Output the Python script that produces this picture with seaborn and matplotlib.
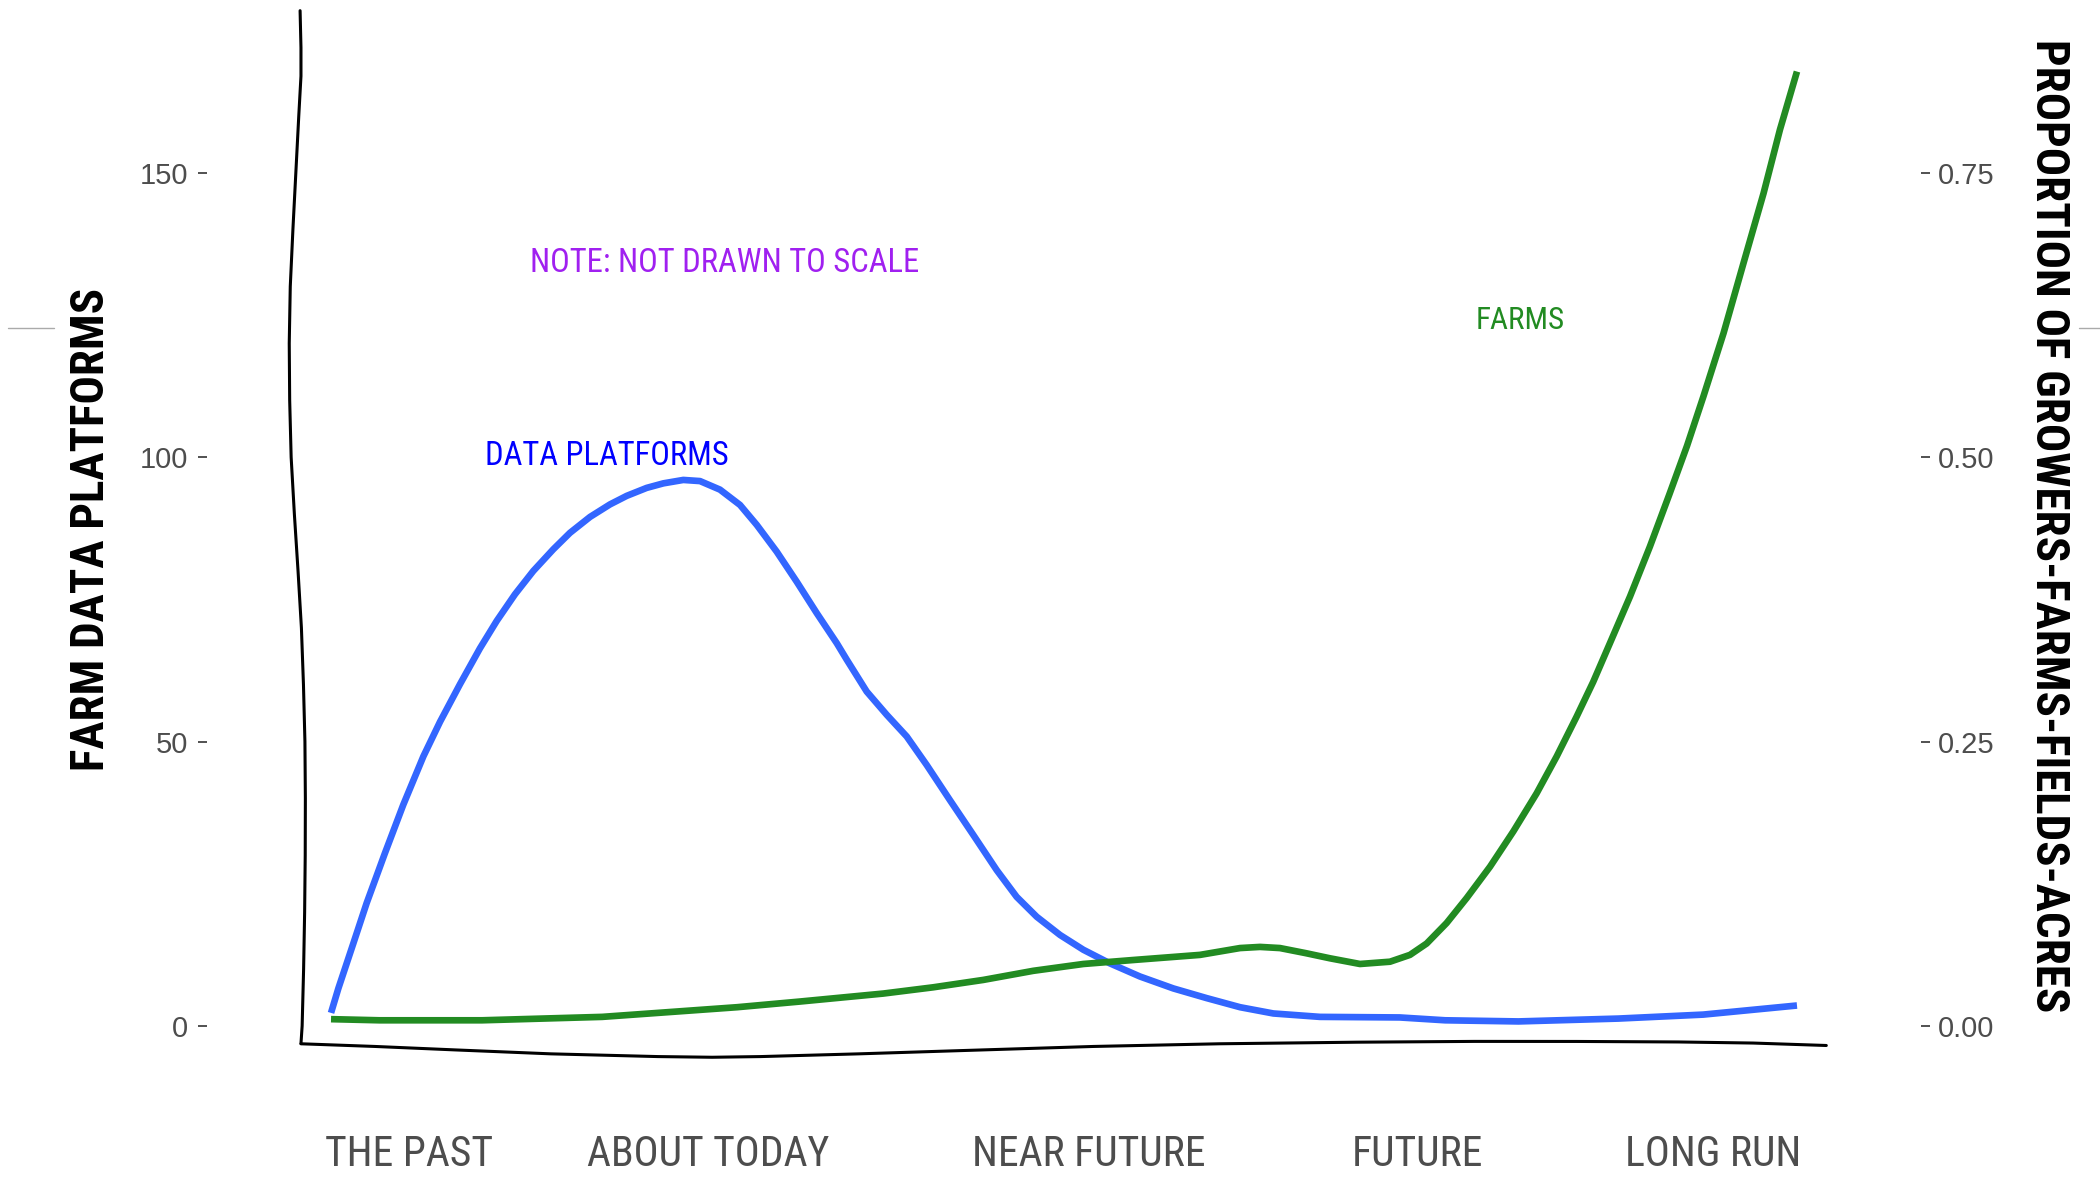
import matplotlib
matplotlib.use("Agg")
import matplotlib.pyplot as plt
import seaborn as sns
import pandas as pd
from matplotlib import font_manager
from matplotlib.lines import Line2D

# ---------------- data ----------------
platform_x = [0, 0.5, 1.52, 2.43, 3.68, 4.93, 6.30, 7.44, 8.80, 10.16, 11.30, 12.55, 13.80,
              15.16, 16.30, 17.67, 19.03, 20.17, 21.53, 22.67, 24.03, 25.17, 26.53, 27.90,
              29.04, 30.40, 31.77, 33.13, 34.50, 35.18, 36.54, 37.91, 39.27, 40.63, 42.22,
              43.81, 45.41, 46.77, 48.14, 49.73, 51.32, 53.14, 55.18, 57.46, 59.73, 62.01,
              64.28, 67.46, 72.9, 76.0, 81.0, 87.8, 93.6, 100]
platform_y = [2.3, 6.6, 14.5, 21.6, 30.4, 38.9, 47.4, 53.5, 60.1, 66.4, 71.2, 75.9, 80.0,
              83.8, 86.7, 89.5, 91.7, 93.2, 94.6, 95.4, 96.0, 95.8, 94.3, 91.6, 88.1, 83.4,
              78.1, 72.6, 67.3, 64.4, 58.8, 54.7, 50.9, 45.9, 39.7, 33.6, 27.4, 22.7, 19.2,
              16.0, 13.4, 11.0, 8.7, 6.6, 4.9, 3.3, 2.2, 1.6, 1.5, 1.0, 0.8, 1.3, 2.0, 3.6]

farms_x = [0, 3.3, 10.3, 18.5, 27.7, 32.0, 37.67, 41.08, 44.50, 47.91, 51.32, 54.73, 59.28,
           62.01, 63.37, 64.73, 66.5, 68.14, 70.19, 72.24, 73.60, 74.74, 76.10, 77.47, 79.06,
           80.65, 82.24, 83.61, 84.97, 86.10, 87.24, 88.61, 89.97, 91.3, 92.5, 93.62,
           94.99, 96.35, 97.72, 98.84, 100]
farms_prop = [0.0060, 0.0050, 0.0050, 0.0080, 0.0165, 0.0215, 0.0285, 0.0340, 0.0405,
              0.0485, 0.0545, 0.0580, 0.0625, 0.0685, 0.0695, 0.0685, 0.0640, 0.0595,
              0.0545, 0.0565, 0.0625, 0.0725, 0.0905, 0.1125, 0.1400, 0.1710, 0.2045,
              0.2370, 0.2720, 0.3025, 0.3365, 0.3775, 0.4215, 0.4675, 0.5100, 0.5535,
              0.6090, 0.6705, 0.7320, 0.7880, 0.8390]

tick_pos = [5.3, 25.7, 51.7, 74.1, 94.3]
tick_labels = ["THE PAST", "ABOUT TODAY", "NEAR FUTURE", "FUTURE", "LONG RUN"]
left_ticks = [0, 50, 100, 150]
right_ticks = [0.0, 0.25, 0.50, 0.75]
right_labels = ["0.00", "0.25", "0.50", "0.75"]

# hand-drawn axis lines (decoration)
yaxis_x = [-2.11, -2.05, -2.05, -2.2, -2.4, -2.6, -2.78, -2.85, -2.82, -2.72, -2.5, -2.25,
           -2.02, -1.88, -1.78, -1.75, -1.76, -1.8, -1.87, -1.97, -2.05]
yaxis_y = [178.5, 172, 167, 160, 150, 140, 130, 120, 110, 100, 90, 80, 70, 60, 50, 40, 30,
           20, 10, 0, -3.1]
xaxis_x = [-2.05, 3, 8.4, 15, 22.3, 26, 29.3, 36, 43.2, 52, 60.6, 70, 78, 85, 91.9, 97, 102]
xaxis_y = [-3.13, -3.6, -4.2, -4.9, -5.38, -5.5, -5.38, -4.9, -4.31, -3.6, -3.13, -2.85,
           -2.71, -2.72, -2.81, -3.0, -3.43]

SCALE = 200.0  # secondary axis = primary / 200

# ---------------- style ----------------
sns.set_theme(style="white")
names = {f.name for f in font_manager.fontManager.ttflist}
NARROW = next((n for n in ["Liberation Sans Narrow", "DejaVu Sans Condensed",
                           "Roboto Condensed", "Open Sans Condensed"] if n in names),
              "Liberation Sans")
REG = "Liberation Sans" if "Liberation Sans" in names else "DejaVu Sans"
plt.rcParams["font.family"] = [REG, "DejaVu Sans"]

W, H = 2100, 1182
fig = plt.figure(figsize=(21, 11.82), dpi=100)
ax = fig.add_axes([207 / W, 1 - 1120 / H, (1921 - 207) / W, (1120 - 5) / H])
ylo, yhi = -16.53, 179.5
XLIM = (-8.46, 108.46)

df_p = pd.DataFrame({"x": platform_x, "platforms": platform_y})
df_f = pd.DataFrame({"x": farms_x, "prop": farms_prop})

sns.lineplot(data=df_p, x="x", y="platforms", ax=ax, color="#3366FF", lw=4.8,
             estimator=None, sort=False, solid_joinstyle="round", solid_capstyle="butt")

ax2 = ax.twinx()
sns.lineplot(data=df_f, x="x", y="prop", ax=ax2, color="#228B22", lw=4.8,
             estimator=None, sort=False, solid_joinstyle="round", solid_capstyle="butt")

ax.set_xlim(*XLIM)
ax.set_ylim(ylo, yhi)
ax2.set_ylim(ylo / SCALE, yhi / SCALE)

# hand drawn axes
ax.plot(yaxis_x, yaxis_y, color="black", lw=2.2, clip_on=False, zorder=1,
        solid_joinstyle="round")
ax.plot(xaxis_x, xaxis_y, color="black", lw=2.2, clip_on=False, zorder=1,
        solid_joinstyle="round")

for a in (ax, ax2):
    for s in a.spines.values():
        s.set_visible(False)
    a.grid(False)
    a.set_xlabel("")
    a.set_ylabel("")

ax.set_yticks(left_ticks)
ax.set_yticklabels([str(t) for t in left_ticks])
ax.tick_params(axis="y", left=True, length=6.5, width=1.2, color="#333333", pad=7,
               labelsize=21, labelcolor="#4D4D4D")
ax.set_xticks(tick_pos)
ax.set_xticklabels(tick_labels, fontfamily=NARROW)
ax.tick_params(axis="x", bottom=True, length=0, pad=10, labelsize=30, labelcolor="#4D4D4D")

ax2.set_yticks(right_ticks)
ax2.set_yticklabels(right_labels)
ax2.tick_params(axis="y", right=True, length=6.5, width=1.2, color="#333333", pad=5.8,
                labelsize=21, labelcolor="#4D4D4D")

# annotations
ax.text(26.85, 132.6, "NOTE: NOT DRAWN TO SCALE", color="#A020F0", ha="center",
        va="baseline", fontsize=23.5, family=NARROW)
ax.text(18.8, 98.6, "DATA PLATFORMS", color="#0000FF", ha="center", va="baseline",
        fontsize=23.5, family=NARROW)
ax.text(81.1, 122.6, "FARMS", color="#228B22", ha="center", va="baseline",
        fontsize=22.5, family=NARROW)

# axis titles
fig.text(91 / W, 1 - 529 / H, "FARM DATA PLATFORMS", rotation=90, ha="center",
         va="center", fontsize=33.8, fontweight="bold", family=NARROW, color="black")
fig.text(2049 / W, 1 - 526 / H, "PROPORTION OF GROWERS-FARMS-FIELDS-ACRES", rotation=-90,
         ha="center", va="center", fontsize=33.8, fontweight="bold", family=NARROW,
         color="black")

# small grey marks at the figure edges
fig.add_artist(Line2D([8 / W, 54 / W], [1 - 328 / H] * 2, color="#AAAAAA", lw=1))
fig.add_artist(Line2D([2079 / W, 1.0], [1 - 328 / H] * 2, color="#AAAAAA", lw=1))

fig.savefig("out.png", dpi=100)
